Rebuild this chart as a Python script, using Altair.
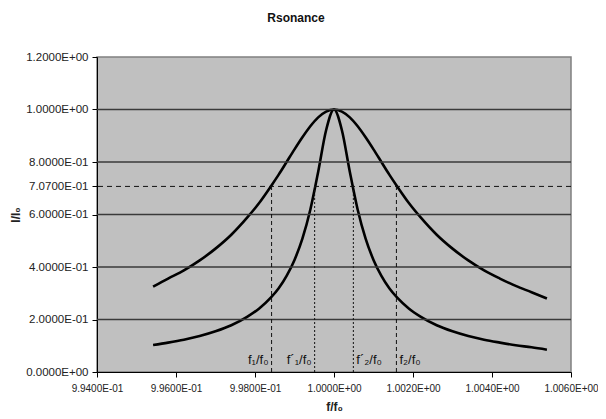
import altair as alt
import pandas as pd

# ---- data ----
f_ratio = [0.99542, 0.9958, 0.9962, 0.9966, 0.9970, 0.9974, 0.9978, 0.9981, 0.9984,
           0.9986, 0.9988, 0.9990, 0.9992, 0.9994, 0.9996, 0.9998, 1.0000,
           1.0002, 1.0004, 1.0006, 1.0008, 1.0010, 1.0012, 1.0014, 1.0016,
           1.0019, 1.0022, 1.0026, 1.0030, 1.0034, 1.0038, 1.0042, 1.0046,
           1.0050, 1.00539]
broad = [0.325, 0.356, 0.387, 0.425, 0.470, 0.523, 0.588, 0.643, 0.707,
         0.752, 0.800, 0.848, 0.894, 0.936, 0.970, 0.992, 1.000,
         0.992, 0.970, 0.936, 0.894, 0.848, 0.800, 0.752, 0.707,
         0.643, 0.588, 0.523, 0.470, 0.425, 0.387, 0.356, 0.328,
         0.304, 0.280]
narrow = [0.103, 0.112, 0.123, 0.137, 0.155, 0.178, 0.210, 0.241, 0.283,
          0.319, 0.366, 0.427, 0.508, 0.618, 0.763, 0.921, 1.000,
          0.921, 0.763, 0.618, 0.508, 0.427, 0.366, 0.319, 0.283,
          0.241, 0.210, 0.178, 0.155, 0.137, 0.123, 0.112, 0.102,
          0.094, 0.085]

grid_levels = [0.2, 0.4, 0.6, 0.8, 1.0]
half_power = 0.707
marker_names = ["f\u2081/f\u2080", "f\u00b4\u2081/f\u2080", "f\u00b4\u2082/f\u2080", "f\u2082/f\u2080"]
marker_f = [0.99842, 0.99951, 1.00049, 1.00158]
marker_style = ["dash", "dot", "dot", "dash"]
marker_side = ["left", "left", "right", "right"]
label_level = 0.046

x_ticks = [0.994, 0.996, 0.998, 1.000, 1.002, 1.004, 1.006]
y_ticks = [0, 0.2, 0.4, 0.6, 0.707, 0.8, 1.0, 1.2]

n = len(f_ratio)
curves = pd.DataFrame({
    "f": f_ratio * 2,
    "I": broad + narrow,
    "series": ["broad"] * n + ["narrow"] * n,
})
grid_df = pd.DataFrame({"I": grid_levels})
markers = pd.DataFrame({
    "f": marker_f, "I": [half_power] * 4, "I0": [0.0] * 4,
    "style": marker_style, "name": marker_names, "side": marker_side,
})
labels = markers.assign(I=label_level)

FONT = "Arial, 'Liberation Sans', sans-serif"
xs = alt.Scale(domain=[0.994, 1.006], nice=False, zero=False)
ys = alt.Scale(domain=[0, 1.2], nice=False, zero=True)
label_expr = "replace(replace(format(datum.value, '.4e'), 'e+', 'E+0'), 'e-', 'E-0')"

x_axis = alt.Axis(values=x_ticks, labelExpr=label_expr, grid=False, tickSize=5,
                  tickColor="#000", domainColor="#000", labelFont=FONT, labelFontSize=10,
                  labelColor="#222", labelPadding=6, labelOverlap=False, labelBound=False,
                  labelFlush=False,
                  title="f/f\u2080", titleFont=FONT,
                  titleFontSize=12, titleFontWeight="bold", titleColor="#222", titlePadding=8)
y_axis = alt.Axis(values=y_ticks, labelExpr=label_expr, grid=False, tickSize=5,
                  tickColor="#000", domainColor="#000", labelFont=FONT, labelFontSize=11.5,
                  labelColor="#222", labelPadding=4, labelOverlap=False, labelFlush=False,
                  title="I/I\u2080", titleFont=FONT,
                  titleFontSize=12, titleFontWeight="bold", titleColor="#222", titlePadding=3)

lines = alt.Chart(curves).mark_line(color="black", strokeWidth=2.6, interpolate="monotone").encode(
    x=alt.X("f:Q", scale=xs, axis=x_axis),
    y=alt.Y("I:Q", scale=ys, axis=y_axis),
    detail="series:N",
)

grid = alt.Chart(grid_df).mark_rule(color="#3a3a3a", strokeWidth=1.3).encode(
    y=alt.Y("I:Q", scale=ys),
)

half = alt.Chart(pd.DataFrame({"I": [half_power]})).mark_rule(
    color="#111", strokeWidth=1, strokeDash=[5, 4]).encode(
    y=alt.Y("I:Q", scale=ys),
)

vlines = alt.Chart(markers).mark_rule(color="#111", strokeWidth=1).encode(
    x=alt.X("f:Q", scale=xs),
    y=alt.Y("I0:Q", scale=ys),
    y2="I:Q",
    strokeDash=alt.StrokeDash("style:N", scale=alt.Scale(domain=["dash", "dot"], range=[[4, 3], [2, 2]]), legend=None),
)

left_txt = alt.Chart(labels).transform_filter("datum.side == 'left'").mark_text(
    align="right", baseline="middle", dx=-3, font=FONT, fontSize=13, color="#111").encode(
    x=alt.X("f:Q", scale=xs), y=alt.Y("I:Q", scale=ys), text="name:N")
right_txt = alt.Chart(labels).transform_filter("datum.side == 'right'").mark_text(
    align="left", baseline="middle", dx=3, font=FONT, fontSize=13, color="#111").encode(
    x=alt.X("f:Q", scale=xs), y=alt.Y("I:Q", scale=ys), text="name:N")

chart = alt.layer(lines, grid, half, vlines, left_txt, right_txt).properties(
    width=474, height=315,
    title=alt.TitleParams("Rsonance", font=FONT, fontSize=12, fontWeight="bold",
                          color="#111", anchor="middle", dx=-38, offset=26),
    autosize=alt.AutoSizeParams(type="none"),
    padding={"left": 89, "top": 49, "right": 27, "bottom": 46},
).configure_view(fill="#c0c0c0", stroke="#808080", strokeWidth=1.5)

chart.save("out.html", embed_options={"renderer": "svg", "actions": False})
